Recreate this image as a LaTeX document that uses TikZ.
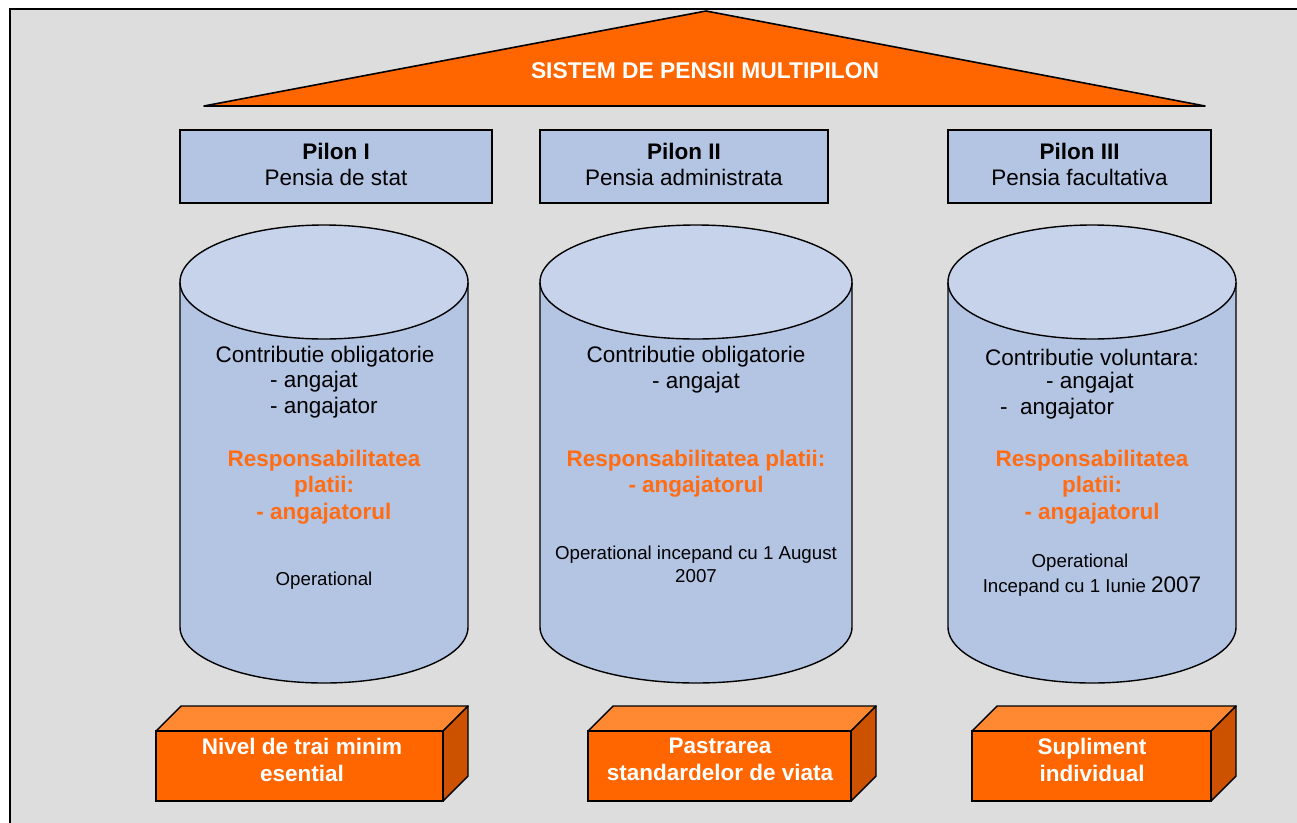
\documentclass[tikz,border=0pt]{standalone}
\usepackage{fontspec}
\setmainfont{Liberation Sans}
\definecolor{bggray}{RGB}{221,221,221}
\definecolor{orng}{RGB}{255,102,0}
\definecolor{orngtop}{RGB}{255,136,51}
\definecolor{orngside}{RGB}{204,82,0}
\definecolor{pblue}{RGB}{180,197,228}
\definecolor{ptop}{RGB}{198,211,235}
\definecolor{otext}{RGB}{255,108,20}
\tikzset{
  pbox/.style={draw=black, line width=1.6pt, fill=pblue, inner sep=0pt},
  ptext/.style={align=center, inner sep=0pt, font=\fontsize{22.5}{26}\selectfont},
  cyl/.style={draw=black, line width=1.4pt},
  txt/.style={inner sep=0pt, font=\fontsize{22.5}{26}\selectfont, text=black},
  otxt/.style={inner sep=0pt, font=\fontsize{22.5}{26}\selectfont\bfseries, text=otext},
  stxt/.style={inner sep=0pt, font=\fontsize{18.7}{21}\selectfont, text=black},
  front/.style={draw=black, line width=1.4pt, fill=orng, inner sep=0pt},
  ftext/.style={align=center, inner sep=0pt, text=white, font=\fontsize{22.5}{27}\selectfont\bfseries},
  face/.style={draw=black, line width=1.4pt, line join=round},
}
\begin{document}
\begin{tikzpicture}[x=1pt,y=-1pt]
\clip (0,0) rectangle (1297,822);
\fill[white] (0,0) rectangle (1297,822);
\draw[line width=1.8pt, fill=bggray] (10,9) rectangle (1320,845);

% roof
\coordinate (rl) at (204,106);
\coordinate (ra) at (706,11);
\coordinate (rr) at (1205,106);
\draw[line width=1.6pt, fill=orng, line join=round] (rl) -- (ra) -- (rr) -- cycle;
\node[inner sep=0pt, text=white, font=\fontsize{22.8}{26}\selectfont\bfseries] (title) at (705,71) {SISTEM DE PENSII MULTIPILON};

% pillar boxes
\node[pbox, minimum width=312, minimum height=73] (p1) at (336,166.5) {};
\node[pbox, minimum width=288, minimum height=73] (p2) at (684,166.5) {};
\node[pbox, minimum width=263, minimum height=73] (p3) at (1079.5,166.5) {};
\node[ptext] (p1t) at (336,164) {\textbf{Pilon I}\\Pensia de stat};
\node[ptext] (p2t) at (684,164) {\textbf{Pilon II}\\Pensia administrata};
\node[ptext] (p3t) at (1079.5,164) {\textbf{Pilon III}\\Pensia facultativa};

% cylinders
\foreach \xa/\xb in {180/468, 540/852, 948/1236}{
  \pgfmathsetmacro{\cx}{(\xa+\xb)/2}
  \pgfmathsetmacro{\rx}{(\xb-\xa)/2}
  \fill[pblue] (\xa,282) -- (\xa,627) arc[start angle=180, end angle=0, x radius=\rx, y radius=56] -- (\xb,282) -- cycle;
  \draw[cyl] (\xa,282) -- (\xa,627) arc[start angle=180, end angle=0, x radius=\rx, y radius=56] -- (\xb,282);
  \draw[cyl, fill=ptop] (\cx,282) ellipse[x radius=\rx, y radius=57];
}

% cylinder 1 text
\node[txt] (c1a) at (325,357) {Contributie obligatorie};
\node[txt, anchor=west] (c1b) at (270,382) {- angajat};
\node[txt, anchor=west] (c1c) at (270,408) {- angajator};
\node[otxt] (c1d) at (324,461) {Responsabilitatea};
\node[otxt] (c1e) at (324,487) {platii:};
\node[otxt] (c1f) at (324,514) {- angajatorul};
\node[stxt] (c1g) at (324,581) {Operational};

% cylinder 2 text
\node[txt] (c2a) at (696,357) {Contributie obligatorie};
\node[txt] (c2b) at (696,383) {- angajat};
\node[otxt] (c2c) at (696,461) {Responsabilitatea platii:};
\node[otxt] (c2d) at (696,487) {- angajatorul};
\node[stxt] (c2e) at (696,555) {Operational incepand cu 1 August};
\node[stxt] (c2f) at (696,576) {2007};

% cylinder 3 text
\node[txt] (c3a) at (1092,357) {Contributie voluntara:};
\node[txt, anchor=west] (c3b) at (1046,383) {- angajat};
\node[txt, anchor=west] (c3c) at (1000,409) {-\ \ angajator};
\node[otxt] (c3d) at (1092,461) {Responsabilitatea};
\node[otxt] (c3e) at (1092,487) {platii:};
\node[otxt] (c3f) at (1092,514) {- angajatorul};
\node[stxt] (c3g) at (1080,563) {Operational};
\node[stxt] (c3h) at (1092,587) {Incepand cu 1 Iunie {\fontsize{22.5}{24}\selectfont 2007}};

% 3D boxes
\foreach \xa/\xb in {156/443, 588/851, 972/1211}{
  \draw[face, fill=orngtop] (\xa,731) -- (\xa+25,706) -- (\xb+25,706) -- (\xb,731) -- cycle;
  \draw[face, fill=orngside] (\xb,731) -- (\xb+25,706) -- (\xb+25,776) -- (\xb,801) -- cycle;
}
\node[front, minimum width=287, minimum height=70] (b1) at (299.5,766) {};
\node[front, minimum width=263, minimum height=70] (b2) at (719.5,766) {};
\node[front, minimum width=239, minimum height=70] (b3) at (1091.5,766) {};
\node[ftext] (b1t) at (302,759.5) {Nivel de trai minim\\esential};
\node[ftext] (b2t) at (720,759.5) {Pastrarea\\standardelor de viata};
\node[ftext] (b3t) at (1092,759.5) {Supliment\\individual};
\end{tikzpicture}
\end{document}
